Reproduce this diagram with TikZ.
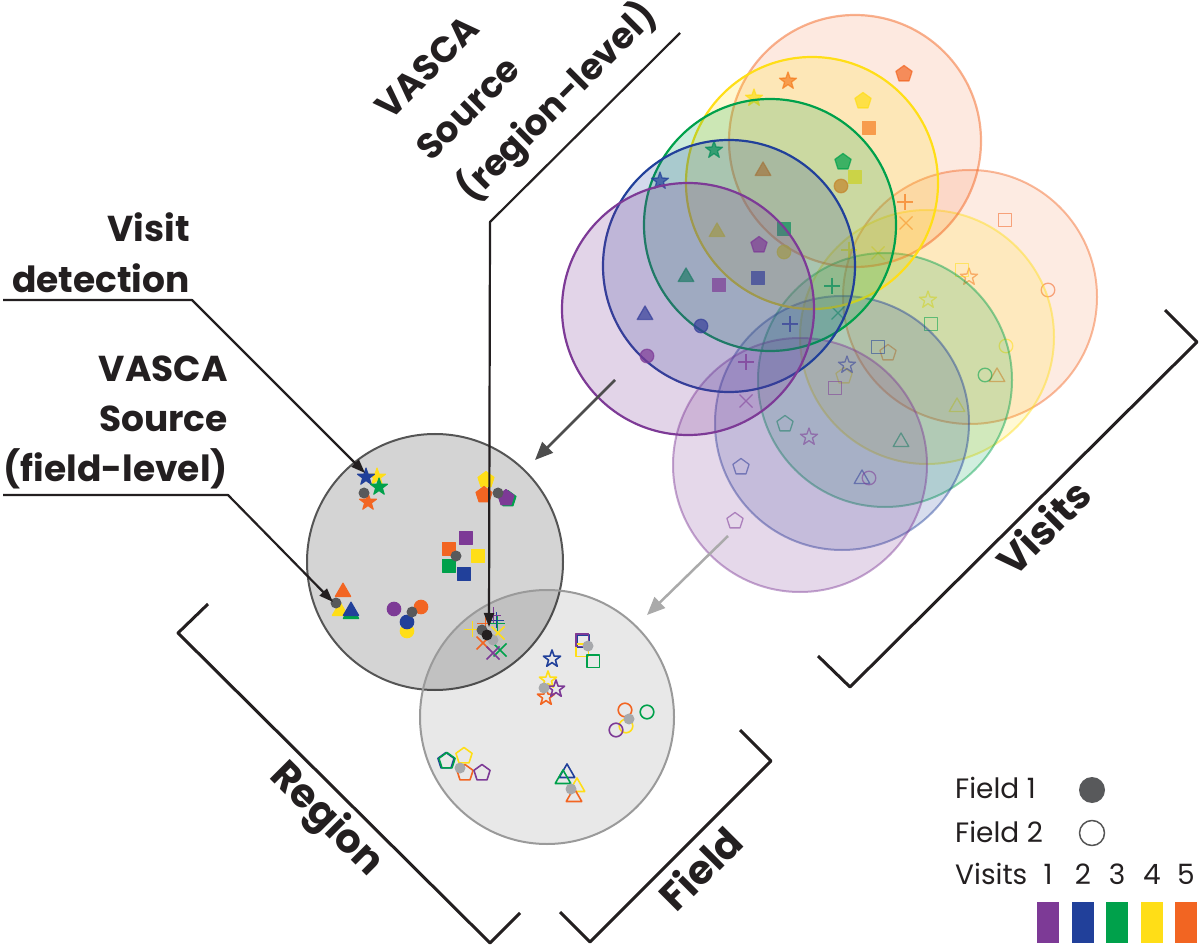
\documentclass[tikz,border=0pt]{standalone}
\usepackage{fontspec}
\setmainfont{Poppins}
\usetikzlibrary{arrows.meta}
\definecolor{c1}{HTML}{7D3A96}
\definecolor{c2}{HTML}{21409A}
\definecolor{c3}{HTML}{00A14B}
\definecolor{c4}{HTML}{FFDE17}
\definecolor{c5}{HTML}{F26522}
\definecolor{darkdot}{HTML}{58595B}
\definecolor{lightdot}{HTML}{A7A9AC}
\definecolor{ink}{HTML}{231F20}
\definecolor{regionline}{HTML}{555555}
\definecolor{fieldline}{HTML}{9A9A9A}
\definecolor{arrdark}{HTML}{4D4D4D}
\definecolor{arrlight}{HTML}{AAAAAA}

\newcommand\symstar[2]{\path[shift={(#2)},#1] (270:9)--(306:3.6)--(342:9)--(18:3.6)--(54:9)--(90:3.6)--(126:9)--(162:3.6)--(198:9)--(234:3.6)--cycle;}
\newcommand\sympent[2]{\path[shift={(#2)},#1] (270:8.5)--(342:8.5)--(54:8.5)--(126:8.5)--(198:8.5)--cycle;}
\newcommand\symsq[2]{\path[shift={(#2)},#1] (-6.3,-6.3) rectangle (6.3,6.3);}
\newcommand\symtri[2]{\path[shift={(#2)},#1] (270:9)--(30:9)--(150:9)--cycle;}
\newcommand\symcirc[2]{\path[shift={(#2)},#1] (0,0) circle[radius=6.8];}
\newcommand\symplus[2]{\path[shift={(#2)},#1] (-8,0)--(8,0) (0,-8)--(0,8);}
\newcommand\symcross[2]{\path[shift={(#2)},#1] (-6.5,-6.5)--(6.5,6.5) (-6.5,6.5)--(6.5,-6.5);}

% field 1 detections: visit/shape/dx/dy relative to field centre
\newcommand\FOne{4/star/-58/-85, 2/star/-69/-85, 3/star/-56/-75, 5/star/-67/-60,
3/pent/73/-63, 4/pent/51/-82, 5/pent/49/-67, 1/pent/71/-64,
1/sq/31/-24, 5/sq/14/-13, 4/sq/43/-6, 3/sq/14/4, 2/sq/29/12,
5/tri/-92/30, 4/tri/-95/49, 3/tri/-84/52, 2/tri/-84/49,
1/circ/-41/47, 5/circ/-14/45, 4/circ/-28/69, 2/circ/-28/60,
4/plus/37/67, 5/plus/50/61, 3/plus/62/61, 2/plus/61/58, 1/plus/58/53}
% field 2 detections
\newcommand\FTwo{5/cross/-64/-74, 4/cross/-49/-84, 3/cross/-47/-67, 1/cross/-54/-64,
5/sq/35/-77, 2/sq/36/-76, 4/sq/35/-67, 3/sq/46/-56, 1/sq/35/-77,
2/star/5/-58, 4/star/1/-37, 5/star/-1/-20, 1/star/9/-28,
5/circ/78/-7, 3/circ/100/-5, 4/circ/79/9, 1/circ/69/13,
2/pent/-101/44, 3/pent/-100/44, 4/pent/-83/39, 5/pent/-82/56, 1/pent/-65/56,
2/tri/20/56, 3/tri/16/62, 4/tri/30/70, 5/tri/27/80}

\tikzset{
  lab/.style={font=\fontsize{36}{40}\selectfont\bfseries, inner sep=0, text=ink},
  blab/.style={font=\fontsize{40}{44}\selectfont\bfseries, inner sep=0, text=ink},
  leg/.style={font=\fontsize{28}{32}\selectfont, inner sep=0, text=ink},
  leader/.style={draw=ink, line width=2.2, -{Triangle[length=14pt,width=10pt]}},
  bracketline/.style={draw=ink, line width=3},
  darkarr/.style={draw=arrdark, line width=2.5, -{Triangle[length=18pt,width=15pt]}},
  lightarr/.style={draw=arrlight, line width=2.5, -{Triangle[length=18pt,width=15pt]}},
}

\begin{document}
\begin{tikzpicture}[x=1pt,y=-1pt,line join=round]
\useasboundingbox (0,0) rectangle (1200,949);

% ---- field 2 visits (lighter)
\foreach \vv/\cx/\cy/\fo in {5/970/297/0.13,4/927/337/0.18,3/885/380/0.18,2/842/423/0.18,1/800/465/0.2}{
  \path[fill=c\vv, fill opacity=\fo, draw=c\vv, draw opacity=0.45, line width=2] (\cx,\cy) circle[radius=127];
  \foreach \v/\s/\dx/\dy in \FTwo {
    \ifnum\v=\vv\relax
      \csname sym\s\endcsname{draw=c\v, draw opacity=0.55, line width=1.3}{{\cx+\dx},{\cy+\dy}}%
    \fi
  }
}
% ---- field 1 visits
\foreach \vv/\cx/\cy/\op/\fo in {5/855/141/0.5/0.14,4/812/183/1/0.2,3/770/225/1/0.2,2/729/266/1/0.2,1/688/309/1/0.22}{
  \path[fill=c\vv, fill opacity=\fo, draw=c\vv, draw opacity=\op, line width=2.2] (\cx,\cy) circle[radius=126];
  \foreach \v/\s/\dx/\dy in \FOne {
    \ifnum\v=\vv\relax
      \csname sym\s\endcsname{fill=c\v, fill opacity=0.7, draw=c\v, draw opacity=0.7, line width=1.3}{{\cx+\dx},{\cy+\dy}}%
    \fi
  }
}

% ---- region and field circles
\path[fill=black, fill opacity=0.17, draw=regionline, line width=2] (435,562) circle[radius=128];
\path[fill=black, fill opacity=0.09, draw=fieldline, line width=2] (547,717) circle[radius=127];

% ---- detections in field circle (open) and region circle (filled)
\foreach \v/\s/\dx/\dy in \FTwo {
  \csname sym\s\endcsname{draw=c\v, line width=1.6}{{547+\dx},{717+\dy}}%
}
\foreach \v/\s/\dx/\dy in \FOne {
  \csname sym\s\endcsname{fill=c\v, draw=c\v, line width=1}{{435+\dx},{562+\dy}}%
}
\foreach \dx/\dy in {-54/-77, 41/-71, -3/-29, 82/2, -87/51, 24/72}
  \fill[lightdot] ({547+\dx},{717+\dy}) circle[radius=5.5];
\foreach \dx/\dy in {-71/-69, 63/-69, 21/-6, -99/41, -23/50, 47/68}
  \fill[darkdot] ({435+\dx},{562+\dy}) circle[radius=5.5];
\fill[ink] (487,635) circle[radius=5.5];

% ---- arrows between circles
\coordinate (da1) at (615,380); \coordinate (da2) at (535,460);
\coordinate (la1) at (728,536); \coordinate (la2) at (647,615);
\draw[darkarr] (da1) -- (da2);
\draw[lightarr] (la1) -- (la2);

% ---- left labels
\node[lab, anchor=base east] (vd1) at (190,242) {Visit};
\node[lab, anchor=base east] (vd2) at (190,293) {detection};
\node[lab, anchor=base east] (fl1) at (228,382) {VASCA};
\node[lab, anchor=base east] (fl2) at (228,432) {Source};
\node[lab, anchor=base east] (fl3) at (228,482) {(field-level)};
\coordinate (vdA) at (3,300); \coordinate (vdB) at (192,300); \coordinate (vdC) at (365,473);
\coordinate (flA) at (3,495); \coordinate (flB) at (228,495); \coordinate (flC) at (333,602);
\draw[leader] (vdA) -- (vdB) -- (vdC);
\draw[leader] (flA) -- (flB) -- (flC);

% ---- region-level label
\node[lab, rotate=45, anchor=base west] (rl1) at (390,122) {VASCA};
\node[lab, rotate=45, anchor=base west] (rl2) at (431,163) {Source};
\node[lab, rotate=45, anchor=base west] (rl3) at (472,204) {(region-level)};
\coordinate (rlA) at (680,33); \coordinate (rlB) at (490,222); \coordinate (rlC) at (489,627);
\draw[leader] (rlA) -- (rlB) -- (rlC);

% ---- brackets
\draw[bracketline] (208,604) -- (178,633) -- (490,943) -- (520,913);
\draw[bracketline] (560,912) -- (590,942) -- (771,761) -- (740,730);
\draw[bracketline] (1165,310) -- (1197,342) -- (850,687) -- (818,656);
\node[blab, rotate=-45] (rgn) at (326,820) {Region};
\node[blab, rotate=45] (fld) at (700,868) {Field};
\node[blab, rotate=45] (vis) at (1043,527) {Visits};

% ---- legend
\node[leg, anchor=base west] (lf1) at (955,798) {Field 1};
\node[leg, anchor=base west] (lf2) at (955,842) {Field 2};
\node[leg, anchor=base west] (lvs) at (955,884) {Visits};
\fill[darkdot] (1092,790) circle[radius=13];
\draw[regionline, line width=1.5] (1092,833) circle[radius=12.5];
\foreach \i/\x in {1/1048,2/1083,3/1117,4/1152,5/1186}{
  \node[leg, anchor=base] (ln\i) at (\x,884) {\i};
  \fill[c\i] ({\x-11},902) rectangle ({\x+11},943);
}
\end{tikzpicture}
\end{document}
